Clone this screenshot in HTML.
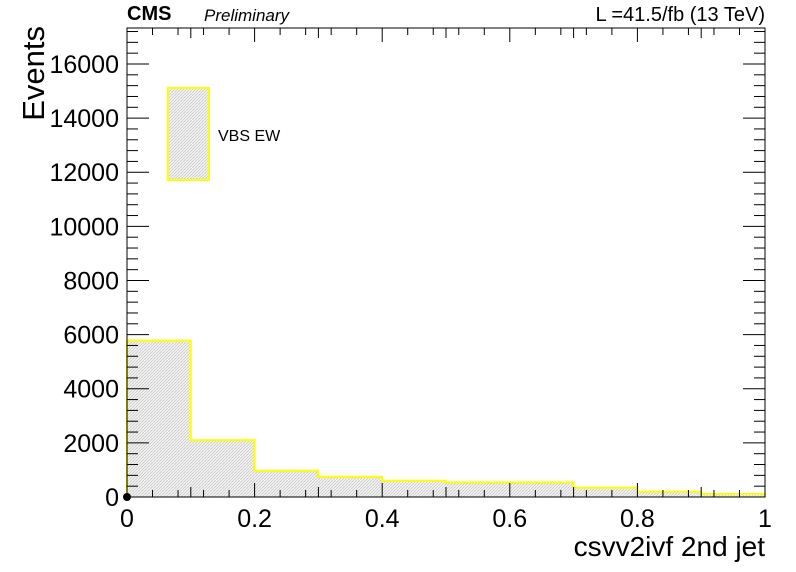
<!DOCTYPE html>
<html><head><meta charset="utf-8"><style>body{margin:0;background:#fff}svg{display:block;font-family:"Liberation Sans",sans-serif}</style></head>
<body>
<svg id="c" width="796" height="572">
<defs><pattern id="h" width="3" height="3" patternUnits="userSpaceOnUse"><rect width="3" height="3" fill="#f4f4f4"/><path d="M0,3 L3,0" stroke="#c8c8c8" stroke-width="0.8"/></pattern></defs>
</svg>
<script>
const binEdges=[0,0.1,0.2,0.3,0.4,0.5,0.6,0.7,0.8,0.9,1.0];
const counts=[5780,2100,975,750,600,540,540,340,200,110];
const yTicks=[0,2000,4000,6000,8000,10000,12000,14000,16000];
const xTicks=[0,0.2,0.4,0.6,0.8,1];
const xTickLabels=["0","0.2","0.4","0.6","0.8","1"];
const L=127,R=765,T=28,B=497,YMAX=17330;
const sx=v=>L+(R-L)*v, sy=v=>B-(B-T)*v/YMAX;
const svg=document.getElementById('c'),NS='http://www.w3.org/2000/svg';
function mk(t,a,p){const e=document.createElementNS(NS,t);for(const k in a)e.setAttribute(k,a[k]);(p||svg).appendChild(e);return e;}
let d=`M${sx(binEdges[0])},${B}`;
counts.forEach((c,i)=>{d+=` L${sx(binEdges[i])},${sy(c)} L${sx(binEdges[i+1])},${sy(c)}`;});
d+=` L${sx(binEdges[binEdges.length-1])},${B}`;
let f=mk('path',{d:d+' Z',fill:'url(#h)',stroke:'none'});


let ln=mk('path',{d,fill:'none',stroke:'#ffff00','stroke-width':2});


let fr=mk('rect',{x:L,y:T,width:R-L,height:B-T,fill:'none',stroke:'#000','stroke-width':1});


for(let v=0;v<=YMAX;v+=400){const y=sy(v),maj=v%2000===0,len=maj?22:11;
 mk('line',{x1:L,x2:L+len,y1:y,y2:y,stroke:'#000'});mk('line',{x1:R,x2:R-len,y1:y,y2:y,stroke:'#000'});}
yTicks.forEach(v=>{const t=mk('text',{x:L-8,y:sy(v)+9,'text-anchor':'end','font-size':25});t.textContent=v;
 });
for(let i=0;i<=50;i++){const v=i/50,x=sx(v),len=i%10===0?14:(i%5===0?10:7);
 if(i%2&&i%5)continue;
 mk('line',{x1:x,x2:x,y1:B,y2:B-len,stroke:'#000'});mk('line',{x1:x,x2:x,y1:T,y2:T+len,stroke:'#000'});}
xTicks.forEach((v,i)=>{const t=mk('text',{x:sx(v),y:B+30,'text-anchor':'middle','font-size':25});t.textContent=xTickLabels[i];
 });
mk('circle',{cx:L,cy:B,r:4,fill:'#000'});
let yt=mk('text',{x:0,y:0,'font-size':31,'text-anchor':'end',transform:`translate(44,26) rotate(-90)`});yt.textContent='Events';

let xt=mk('text',{x:R,y:556,'font-size':28,'text-anchor':'end'});xt.textContent='csvv2ivf 2nd jet';

let c1=mk('text',{x:127,y:20,'font-size':20,'font-weight':'bold'});c1.textContent='CMS';

let c2=mk('text',{x:204,y:21,'font-size':17,'font-style':'italic'});c2.textContent='Preliminary';

let c3=mk('text',{x:765,y:21,'font-size':20,'text-anchor':'end'});c3.textContent='L =41.5/fb (13 TeV)';

let lb=mk('rect',{x:168,y:88,width:41,height:92,fill:'url(#h)',stroke:'#ffff00','stroke-width':2});

let lt=mk('text',{x:218,y:141,'font-size':16});lt.textContent='VBS EW';

</script>
</body></html>
